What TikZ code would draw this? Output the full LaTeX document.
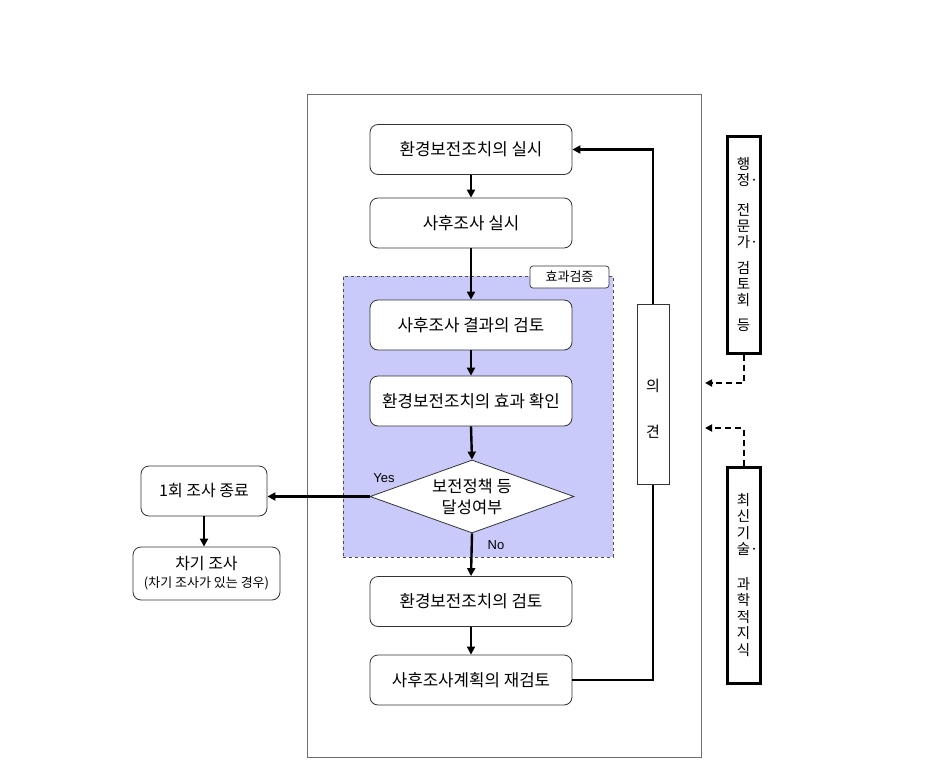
\documentclass[tikz,border=0pt]{standalone}
\usepackage{fontspec}
\setmainfont{Noto Sans CJK KR}
\newfontfamily\lat{Liberation Sans}
\usetikzlibrary{shapes.geometric,arrows.meta}
\definecolor{lav}{RGB}{202,202,250}
\definecolor{framegray}{RGB}{110,110,110}
\begin{document}
\begin{tikzpicture}[x=1pt,y=-1pt,
  proc/.style={draw=black!80, line width=0.8pt, rounded corners=8pt, fill=white,
    minimum width=202pt, minimum height=50pt, inner sep=0pt,
    font=\fontsize{16.8}{20}\selectfont},
  side/.style={draw=black!80, line width=0.8pt, rounded corners=8pt, fill=white,
    inner sep=0pt, align=center},
  arr/.style={line width=2.4pt, -{Triangle[length=8pt,width=8pt]}},
  darr/.style={line width=2pt, dash pattern=on 6pt off 4pt, -{Triangle[length=7pt,width=7pt]}},
  vbox/.style={draw=black, line width=3pt, fill=white, minimum width=33pt, inner sep=0pt,
    align=center},
  lbl/.style={font=\lat\fontsize{13}{15}\selectfont, inner sep=0pt}
]
\useasboundingbox (0,0) rectangle (946,766);
% outer frame
\node[draw=framegray, line width=0.8pt, minimum width=394pt, minimum height=663pt, inner sep=0pt] (frm) at (504,425.5) {};
% verification group
\node[draw=black!70, dashed, line width=0.7pt, fill=lav, minimum width=270pt, minimum height=281pt, inner sep=0pt] (grp) at (478,416.5) {};
\node[draw=black!80, line width=0.7pt, rounded corners=3pt, fill=white, minimum width=79pt, minimum height=22pt, inner sep=0pt, font=\fontsize{13}{15}\selectfont] (tag) at (569.5,277) {효과검증};

% main flow
\node[proc] (b1) at (471,149.5) {환경보전조치의 실시};
\node[proc] (b2) at (471,223) {사후조사 실시};
\node[proc] (b3) at (471,325) {사후조사 결과의 검토};
\node[proc] (b4) at (471,401) {환경보전조치의 효과 확인};
\node[diamond, draw=black!80, line width=0.8pt, fill=white, aspect=2.8,
  minimum width=204pt, minimum height=73pt, inner sep=0pt, align=center,
  font=\fontsize{16.5}{21}\selectfont] (dia) at (472,496.5) {보전정책 등\\달성여부};
\node[proc] (b5) at (471,601.5) {환경보전조치의 검토};
\node[proc] (b6) at (471,680) {사후조사계획의 재검토};

\draw[arr] (b1.south) -- (b2.north);
\draw[arr] (b2.south) -- (b3.north);
\draw[arr] (b3.south) -- (b4.north);
\draw[arr] (b4.south) -- (dia.north);
\draw[arr] (dia.south) -- (b5.north);
\draw[arr] (b5.south) -- (b6.north);

\node[lbl] (yes) at (384,478) {Yes};
\node[lbl] (no) at (496,545) {No};

% feedback loop
\coordinate (fbx) at (653,0);
\draw[arr] (b6.east) -- (b6.east -| fbx) -- (b1.east -| fbx) -- (b1.east);
\node[draw=black!80, line width=0.7pt, fill=white, minimum width=32pt, minimum height=180pt, inner sep=0pt] (op) at (653,394) {};
\node[align=center, inner sep=0pt, font=\fontsize{15}{46}\selectfont] (optxt) at (653,409) {의\\견};

% left branch
\node[side, minimum width=126pt, minimum height=50pt, font=\fontsize{16}{19}\selectfont] (e1) at (204,491) {1회 조사 종료};
\node[side, minimum width=147pt, minimum height=53pt, font=\fontsize{16}{18}\selectfont] (e2) at (206.5,573.5) {차기 조사\\{\fontsize{13}{15}\selectfont (차기 조사가 있는 경우)}};
\draw[arr] (dia.west) -- (dia.west -| e1.east);
\draw[arr] (e1.south) -- (e1.south |- e2.north);

% right side inputs
\node[vbox, minimum height=217pt, font=\fontsize{14.5}{16}\selectfont] (r1) at (743.5,244.5)
  {행\\정\rlap{·}\\[14pt]전\\문\\가\rlap{·}\\[10pt]검\\토\\회\\[9pt]등};
\node[vbox, minimum height=216pt, font=\fontsize{14.5}{16.5}\selectfont] (r2) at (743.5,575)
  {최\\신\\기\\술\rlap{·}\\[18pt]과\\학\\적\\지\\식};
\coordinate (d1) at (705,383);
\coordinate (d2) at (705,428);
\draw[darr] (r1.south) |- (d1);
\draw[darr] (r2.north) |- (d2);
\end{tikzpicture}
\end{document}
